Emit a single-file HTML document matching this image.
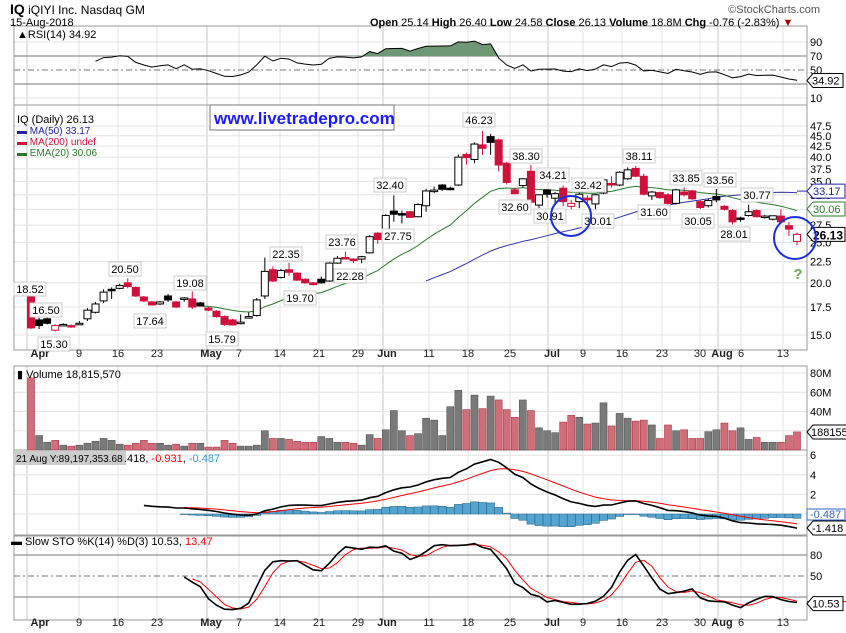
<!DOCTYPE html>
<html><head><meta charset="utf-8"><style>
body{margin:0;background:#fff;}
svg{display:block;font-family:"Liberation Sans",Arial,sans-serif;}
</style></head><body>
<svg id="c" width="846" height="633" xmlns="http://www.w3.org/2000/svg"></svg>
<script>
const S=document.getElementById('c');let h='';
const D=[[18.5,18.52,15.5,15.6],[16.3,16.5,15.5,15.8],[16.4,16.5,15.9,16.0],[15.4,15.9,15.3,15.8],[15.9,16.0,15.8,15.9],[15.8,15.9,15.6,15.7],[16.0,16.2,15.9,16.0],[16.4,17.4,16.2,17.2],[17.0,18.0,16.9,17.8],[18.1,19.3,17.9,19.0],[19.3,19.5,18.3,19.2],[19.4,19.9,19.3,19.7],[20.0,20.5,19.4,19.6],[19.5,19.6,18.5,18.6],[18.5,18.6,18.0,18.1],[18.0,18.1,17.64,17.7],[17.8,18.1,17.7,18.0],[18.6,18.8,18.0,18.2],[18.0,18.1,17.4,17.5],[18.4,18.5,18.0,18.4],[18.3,19.08,17.3,17.5],[17.9,18.0,17.6,17.6],[17.4,17.5,17.1,17.2],[17.1,17.2,16.5,16.6],[16.6,16.7,15.79,15.9],[16.3,16.4,15.8,15.85],[16.1,16.8,15.9,16.1],[16.6,17.0,16.5,16.6],[16.7,18.4,16.6,18.2],[18.6,23.0,18.3,21.3],[21.5,21.9,20.1,20.2],[20.6,21.6,20.5,21.4],[21.5,22.35,20.8,21.2],[21.1,21.2,20.2,20.3],[20.4,20.5,19.9,20.0],[20.0,20.1,19.7,19.8],[20.4,20.7,19.9,20.0],[20.2,22.4,20.1,22.3],[22.3,23.2,22.2,22.9],[23.0,23.76,22.8,22.85],[22.8,22.9,22.3,22.7],[22.8,23.2,22.28,23.1],[23.6,26.0,23.5,25.8],[26.3,26.5,24.8,25.4],[26.0,29.2,25.8,29.0],[29.7,32.4,28.0,29.2],[29.3,29.8,27.75,29.25],[29.6,29.7,28.6,28.7],[28.8,31.0,28.7,30.8],[30.6,33.6,29.6,33.2],[33.3,34.0,32.8,33.35],[34.3,34.5,33.2,33.5],[33.7,34.0,33.3,33.6],[34.3,40.6,34.1,40.0],[40.6,41.0,38.4,39.9],[39.5,43.4,38.7,43.0],[42.8,46.23,40.5,42.0],[44.8,45.5,40.5,43.4],[44.0,44.3,37.0,38.3],[38.7,39.0,34.4,34.8],[33.4,33.8,32.6,32.7],[34.2,35.6,33.8,35.5],[37.0,38.3,31.0,31.2],[30.7,32.6,30.2,32.5],[33.4,33.5,32.0,32.6],[31.9,33.0,30.91,32.7],[33.7,34.21,30.5,31.3],[30.5,31.6,30.0,31.0],[31.3,33.0,30.2,32.6],[31.9,32.42,31.0,31.6],[30.9,32.6,30.01,32.5],[32.8,35.4,32.6,35.3],[34.6,36.0,33.8,34.3],[34.3,37.0,34.1,36.8],[35.5,37.8,35.3,37.3],[37.6,38.11,35.8,36.0],[36.0,36.5,32.4,32.6],[32.3,33.2,31.6,33.0],[32.9,33.1,31.8,32.0],[32.5,32.8,30.8,31.0],[31.0,33.6,30.8,33.4],[33.0,33.85,32.2,32.5],[33.2,33.4,31.6,31.8],[31.3,31.5,30.05,30.3],[30.6,31.8,30.3,31.5],[32.2,33.56,31.2,31.6],[30.5,30.7,29.8,30.0],[29.8,30.0,27.6,28.0],[28.6,28.8,28.01,28.5],[29.0,30.77,28.8,29.6],[29.8,30.0,28.7,28.8],[28.9,29.1,28.5,28.9],[28.4,29.0,28.2,28.95],[28.9,30.0,27.9,28.0],[27.4,28.0,25.9,26.9],[25.14,26.4,24.58,26.13]];
const V=[75,15,8,10,5,4,5,7,9,12,10,6,5,7,10,7,7,5,6,4,7,7,3,3,10,7,4,4,5,20,12,12,11,9,8,8,14,12,8,8,7,5,16,12,21,41,20,15,17,33,31,15,45,62,42,57,43,56,52,42,34,52,41,23,20,18,29,36,34,27,28,49,25,38,33,30,31,26,12,26,20,21,12,12,19,21,28,20,23,11,13,8,8,8,15,18.8];
const N=D.length, X=i=>31+i*766/95;
const PY=v=>126+(Math.log(47.5)-Math.log(v))*181.3;
const RY=v=>98-(v-10)*0.7, VY=v=>450-v*0.9625, MY=v=>514-v*9.8, SY=v=>611-v*0.7;
const L=14,R=807;
const panels=[[26,105],[105,350],[366,450],[450,535],[536,620]];
const weeks=[[27,'Apr',1],[79,'9'],[118,'16'],[157,'23'],[207,'May',1],[239,'7'],[280,'14'],[319,'21'],[358,'29'],[383,'Jun',1],[429,'11'],[468,'18'],[510,'25'],[548,'Jul',1],[583,'9'],[622,'16'],[662,'23'],[700,'30'],[718,'Aug',1],[741,'6'],[783,'13']];
panels.forEach(p=>{weeks.forEach(w=>{h+=`<line x1="${w[0]}" y1="${p[0]}" x2="${w[0]}" y2="${p[1]}" stroke="${w[2]?'#c8c8c8':'#e4e4e4'}"/>`;});});
function hg(y,dark,dash){h+=`<line x1="${L}" y1="${y}" x2="${R}" y2="${y}" stroke="${dark?'#777':'#e4e4e4'}" ${dash?'stroke-dasharray="6,3,2,3"':''}/>`;}
[[90,0],[70,1],[50,1,1],[30,1],[10,0]].forEach(a=>hg(RY(a[0]),a[1],a[2]));
[90,70,50,10].forEach(v=>h+=`<text x="810" y="${RY(v)+4}" font-size="11">${v}</text>`);
[47.5,45,42.5,40,37.5,35,32.5,30,27.5,25,22.5,20,17.5,15].forEach(v=>{hg(PY(v));h+=`<text x="810" y="${PY(v)+4}" font-size="11">${v.toFixed(1)}</text>`;});
[20,40,60,80].forEach(v=>{hg(VY(v));h+=`<text x="810" y="${VY(v)+4}" font-size="11">${v}M</text>`;});
[6,4,2].forEach(v=>{hg(MY(v));h+=`<text x="810" y="${MY(v)+4}" font-size="11">${v}</text>`;});hg(MY(0));
[[80,1],[50,1,1],[20,1]].forEach(a=>hg(SY(a[0]),a[1],a[2]));
[80,50].forEach(v=>h+=`<text x="810" y="${SY(v)+4}" font-size="11">${v}</text>`);
panels.forEach(p=>h+=`<rect x="${L}" y="${p[0]}" width="${R-L}" height="${p[1]-p[0]}" fill="none" stroke="#999"/>`);
[357,626].forEach(y=>weeks.forEach(w=>{let x=w[0];if(w[1]=='Apr')x=40;else if(w[2])x=w[0]+4;h+=`<text x="${x}" y="${y}" font-size="11" text-anchor="middle" font-weight="${w[2]?'bold':'normal'}" fill="#222">${w[1]}</text>`;}));
const C=D.map(d=>d[3]);
function ema(a,n){const k=2/(n+1);let r=[a[0]];for(let i=1;i<a.length;i++)r.push(a[i]*k+r[i-1]*(1-k));return r;}
function path(a,f,s,col,w){let p='';for(let i=s;i<a.length;i++)p+=(i==s?'M':'L')+X(i).toFixed(1)+' '+f(a[i]).toFixed(1);h+=`<path d="${p}" fill="none" stroke="${col}" stroke-width="${w||1}"/>`;}
const e20=ema(C,20);
let sma=[];for(let i=0;i<N;i++){if(i<49)sma.push(0);else{let s=0;for(let j=i-49;j<=i;j++)s+=C[j];sma.push(s/50);}}
let ag=0.35,al=0.35,rsi=[50];for(let i=1;i<N;i++){const d=C[i]-C[i-1];ag=(ag*13+Math.max(d,0))/14;al=(al*13+Math.max(-d,0))/14;rsi.push(100-100/(1+ag/(al||1e-9)));}
let fp='';for(let i=8;i<N;i++){fp+=(i==8?'M':'L')+X(i)+' '+Math.min(RY(rsi[i]),RY(70));}fp+=`L${X(N-1)} ${RY(70)} L${X(8)} ${RY(70)}Z`;
h+=`<path d="${fp}" fill="#6e9873"/>`;
path(rsi,RY,8,'#000',1);
h+=`<path d="M${R} ${RY(34.92)} l6 -7 h30 v14 h-30z" fill="#fff" stroke="#000"/><text x="812" y="${RY(34.92)+4}" font-size="11">34.92</text>`;
for(let i=0;i<N;i++){const red=i>0&&C[i]<C[i-1]||i==0;h+=`<rect x="${X(i)-3.5}" y="${VY(V[i])}" width="7" height="${450-VY(V[i])}" fill="${red?'#cf6d78':'#7a7a7a'}" stroke="${red?'#b03848':'#555'}" stroke-width="0.6"/>`;}
h+=`<path d="M${R} 432 l6 -7 h34 v14 h-34z" fill="#fff" stroke="#000"/><text x="811" y="436" font-size="11">188155</text>`;
const e12=ema(C,12),e26=ema(C,26);const m=C.map((c,i)=>e12[i]-e26[i]);const sg=ema(m,9);
for(let i=19;i<N;i++){const hv=m[i]-sg[i];const y=MY(Math.max(hv,0)),y2=MY(Math.min(hv,0));h+=`<rect x="${X(i)-4}" y="${y}" width="8" height="${Math.max(y2-y,0.5)}" fill="#55a4d0" stroke="#1e5e80" stroke-width="0.5"/>`;}
path(sg,MY,19,'#f00',1);path(m,MY,14,'#000',1.6);
h+=`<rect x="${R}" y="509" width="38" height="11" fill="#fff" stroke="#36c"/><text x="810" y="518" font-size="11" fill="#36c">-0.487</text>`;
h+=`<path d="M${R} 528 l6 -7 h34 v14 h-34z" fill="#fff" stroke="#000"/><text x="812" y="532" font-size="11">-1.418</text>`;
let rk=[];for(let i=0;i<N;i++){let hh=-1e9,ll=1e9;for(let j=Math.max(0,i-13);j<=i;j++){hh=Math.max(hh,D[j][1]);ll=Math.min(ll,D[j][2]);}rk.push(100*(C[i]-ll)/(hh-ll));}
const sm3=a=>a.map((v,i)=>i<2?v:(a[i]+a[i-1]+a[i-2])/3);const sk=sm3(rk),sd=sm3(sk);
path(sd,SY,20,'#f00',1);path(sk,SY,19,'#000',1.6);
h+=`<line x1="${R}" y1="${SY(13.47)}" x2="846" y2="${SY(13.47)}" stroke="#f00"/>`;
h+=`<path d="M${R} ${SY(10.53)} l6 -7 h30 v14 h-30z" fill="#fff" stroke="#000"/><text x="812" y="${SY(10.53)+4}" font-size="11">10.53</text>`;
path(sma,PY,49,'#33a',1);h+=`<line x1="${X(N-1)}" y1="${PY(33.17)}" x2="${R}" y2="${PY(33.17)}" stroke="#33a"/>`;
path(e20,PY,21,'#2a7a2a',1);
for(let i=0;i<N;i++){const [o,hi,lo,c]=D[i];const red=i>0&&c<C[i-1]||i==0;const col=red?'#d0103a':'#000';const x=X(i);
h+=`<line x1="${x}" y1="${PY(hi)}" x2="${x}" y2="${PY(lo)}" stroke="${col}"/>`;
const y1=PY(Math.max(o,c)),y2=PY(Math.min(o,c));const hh=Math.max(y2-y1,1.5);
h+=`<rect x="${x-3.5}" y="${y1}" width="7" height="${hh}" fill="${c<o?col:'#fff'}" stroke="${col}"/>`;}
const LB=[['18.52',30,289],['16.50',46,310],['15.30',54,344],['20.50',125,269],['17.64',150,321],['19.08',190,283],['15.79',222,339],['22.35',286,254],['19.70',300,298],['23.76',342,242],['22.28',350,276],['32.40',390,185],['27.75',398,236],['46.23',479,120],['38.30',526,156],['32.60',515,207],['34.21',553,175],['30.91',550,216],['32.42',588,185],['30.01',598,221],['38.11',639,156],['31.60',654,212],['33.85',686,178],['30.05',698,221],['33.56',720,180],['28.01',734,234],['30.77',757,195]];
LB.forEach(l=>h+=`<rect x="${l[1]-16}" y="${l[2]-7}" width="32" height="14" fill="#fff" stroke="#ccc"/><text x="${l[1]}" y="${l[2]+4}" font-size="11" text-anchor="middle">${l[0]}</text>`);
h+=`<path d="M${R} ${PY(33.17)} l6 -7 h32 v14 h-32z" fill="#fff" stroke="#22a"/><text x="813" y="${PY(33.17)+4}" font-size="11" fill="#22a">33.17</text>`;
h+=`<path d="M${R} ${PY(30.06)} l6 -7 h32 v14 h-32z" fill="#fff" stroke="#2a7a2a"/><text x="813" y="${PY(30.06)+4}" font-size="11" fill="#2a7a2a">30.06</text>`;
h+=`<path d="M${R} ${PY(26.13)} l6 -7 h32 v14 h-32z" fill="#fff" stroke="#000"/><text x="813" y="${PY(26.13)+5}" font-size="12" font-weight="bold">26.13</text>`;
h+=`<circle cx="571" cy="216" r="20" fill="none" stroke="#1a2ee0" stroke-width="2"/><circle cx="795" cy="238" r="21" fill="none" stroke="#1a2ee0" stroke-width="2"/><text x="798" y="279" font-size="15" font-weight="bold" fill="#6aa84f" text-anchor="middle">?</text>`;
h+=`<rect x="210" y="105" width="184" height="25" fill="#fff" stroke="#777"/><text x="214" y="124" font-size="17" font-weight="bold" fill="#1a1aff">www.livetradepro.com</text>`;
h+=`<text x="17" y="123" font-size="11">IQ (Daily) 26.13</text><text x="17" y="134" font-size="10" fill="#22a">▬ MA(50) 33.17</text><text x="17" y="145" font-size="10" fill="#d0103a">▬ MA(200) undef</text><text x="17" y="156" font-size="10" fill="#2a7a2a">▬ EMA(20) 30.06</text>`;
h+=`<text x="17" y="38" font-size="11">▲RSI(14) 34.92</text>`;
h+=`<text x="17" y="378" font-size="11">▮ Volume 18,815,570</text>`;
h+=`<rect x="14" y="451" width="112" height="14" fill="#ccc"/><text x="16" y="462" font-size="10">21 Aug Y:89,197,353.68</text><text x="124" y="462" font-size="11">.418, <tspan fill="#f00">-0.931</tspan>, <tspan fill="#39c">-0.487</tspan></text>`;
h+=`<text x="11" y="545" font-size="11">▬ Slow STO %K(14) %D(3) 10.53, <tspan fill="#f00">13.47</tspan></text>`;
h+=`<text x="10" y="14" font-size="12"><tspan font-weight="bold" font-size="14">IQ</tspan> iQIYI Inc. Nasdaq GM</text><text x="10" y="26" font-size="11">15-Aug-2018</text>`;
h+=`<text x="370" y="26" font-size="11"><tspan font-weight="bold">Open</tspan> 25.14 <tspan font-weight="bold">High</tspan> 26.40 <tspan font-weight="bold">Low</tspan> 24.58 <tspan font-weight="bold">Close</tspan> 26.13 <tspan font-weight="bold">Volume</tspan> 18.8M <tspan font-weight="bold">Chg</tspan> -0.76 (-2.83%) <tspan fill="#a00">▼</tspan></text>`;
h+=`<text x="820" y="13" font-size="11" text-anchor="end" fill="#555">©StockCharts.com</text>`;
S.innerHTML=h;
</script>
</body></html>
